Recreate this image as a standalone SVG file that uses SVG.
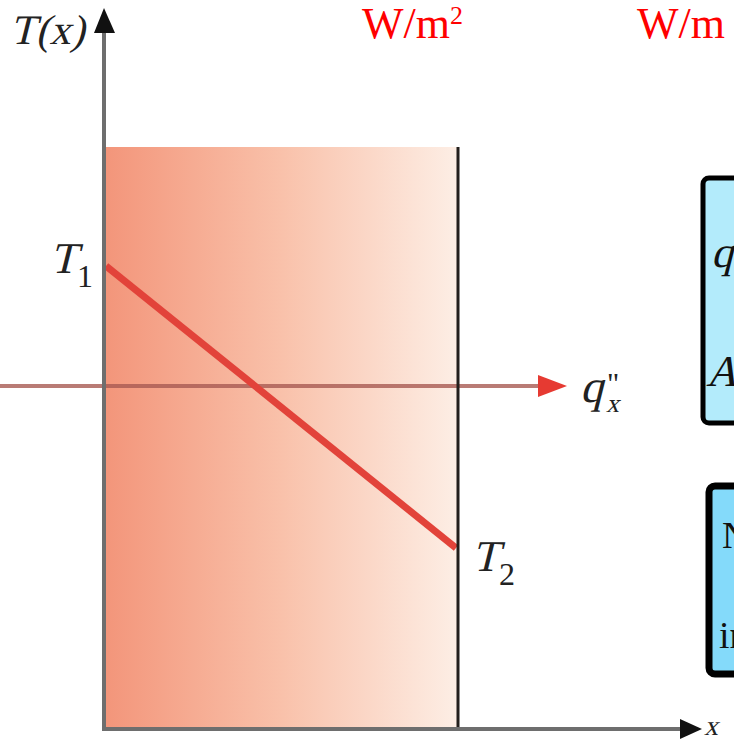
<svg xmlns="http://www.w3.org/2000/svg" width="734" height="741" viewBox="0 0 734 741">
<style>
.it{font-family:"Liberation Serif","Times New Roman",serif;fill:#222}
.up{font-family:"Liberation Serif","Times New Roman",serif;fill:#222}
.unit{font-family:"Liberation Serif","Times New Roman",serif;fill:#ff0000}
.box{stroke:#000;stroke-linejoin:round}
.btxt{font-family:"Liberation Serif","Times New Roman",serif;fill:#111}
</style>
<defs>
<linearGradient id="wall" x1="0" y1="0" x2="1" y2="0">
<stop offset="0" stop-color="#f3957a"/>
<stop offset="0.5" stop-color="#f9c1aa"/>
<stop offset="1" stop-color="#fdeee5"/>
</linearGradient>
</defs>
<rect width="734" height="741" fill="#fff"/>
<g id="wall-slab">
<rect x="104" y="147" width="354" height="582" fill="url(#wall)"/>
</g>
<g id="connectors">
<line x1="0" y1="386" x2="541" y2="386" stroke="#a85a52" stroke-opacity="0.8" stroke-width="4"/>
<polygon points="538,375 567,386 538,397" fill="#e63a32"/>
<line x1="106" y1="266" x2="456" y2="548" stroke="#e2433a" stroke-width="7"/>
<line x1="458" y1="147" x2="458" y2="731" stroke="#231f1c" stroke-width="3"/>
<line x1="104" y1="30" x2="104" y2="731" stroke="#6e6e6e" stroke-width="4"/>
<polygon points="104,8 94,33 115,33" fill="#111"/>
<line x1="102" y1="729" x2="684" y2="729" stroke="#6e6e6e" stroke-width="4"/>
<polygon points="702,729 680,719 680,739" fill="#111"/>
</g>
<g id="axis-labels">
<g transform="translate(10,44) skewX(-14)"><text class="it" x="0" y="0" font-size="42">T(x)</text></g>
<g transform="translate(704,735) skewX(-14)"><text class="it" x="0" y="0" font-size="28">x</text></g>
</g>
<g id="T1">
<g transform="translate(50,273) skewX(-14)"><text class="it" x="0" y="0" font-size="44">T</text></g>
<text class="up" x="77" y="287" font-size="32">1</text>
</g>
<g id="T2">
<g transform="translate(472,571) skewX(-14)"><text class="it" x="0" y="0" font-size="44">T</text></g>
<text class="up" x="499" y="585" font-size="32">2</text>
</g>
<g id="qx">
<g transform="translate(580,402) skewX(-14)"><text class="it" x="0" y="0" font-size="46">q</text></g>
<g transform="translate(606,412) skewX(-14)"><text class="it" x="0" y="0" font-size="26">x</text></g>
<text class="up" x="607" y="393" font-size="30">"</text>
</g>
<g id="unit-flux">
<text class="unit" x="362" y="38" font-size="44">W/m</text>
<text class="unit" x="450" y="24" font-size="26">2</text>
</g>
<g id="unit-rate">
<text class="unit" x="637" y="38" font-size="44">W/m</text>
</g>
<g id="box1">
<rect class="box" x="703" y="178" width="80" height="245" rx="6" fill="#b3ebfb" stroke-width="5"/>
<g transform="translate(711,267) skewX(-14)"><text class="btxt" x="0" y="0" font-size="44">q</text></g>
<g transform="translate(706,386) skewX(-14)"><text class="btxt" x="0" y="0" font-size="44">A</text></g>
</g>
<g id="box2">
<rect class="box" x="709" y="486" width="80" height="188" rx="6" fill="#84dafa" stroke-width="7"/>
<text class="btxt" x="722" y="548" font-size="38">N</text>
<text class="btxt" x="719" y="648" font-size="38">in</text>
</g>
</svg>
